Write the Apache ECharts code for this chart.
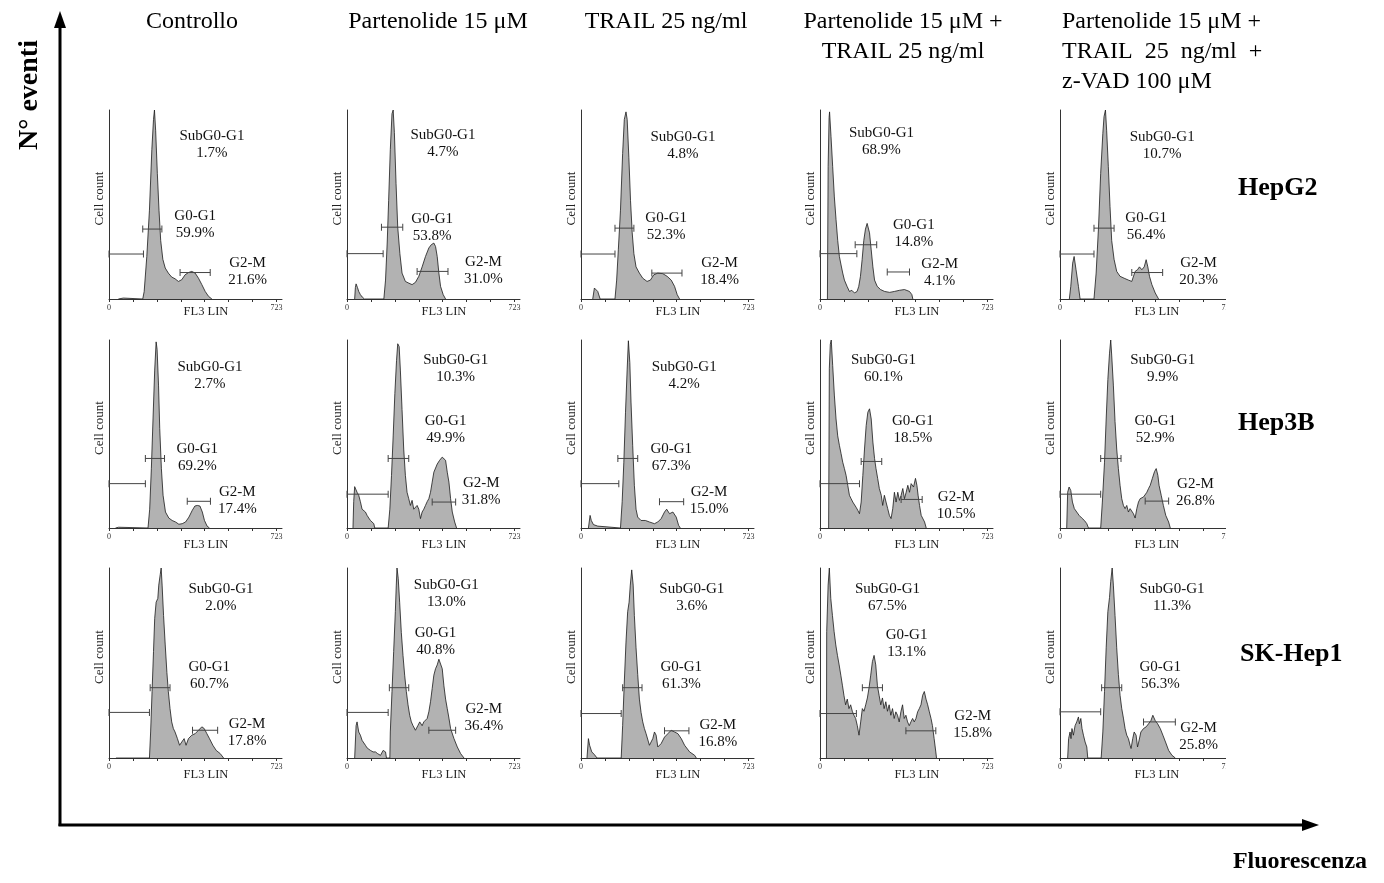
<!DOCTYPE html>
<html lang="it">
<head>
  <meta charset="UTF-8">
  <title>Ciclo cellulare - FL3 LIN</title>
  <script src="https://cdn.jsdelivr.net/npm/echarts@6/dist/echarts.min.js"></script>
  <style>
    html, body { margin: 0; padding: 0; background: #fff; }
    #chart { width: 1384px; height: 883px; }
  </style>
</head>
<body>
<div id="chart"></div>
<script>
  const treatments = [
    "Controllo",
    "Partenolide 15 μM",
    "TRAIL 25 ng/ml",
    "Partenolide 15 μM +\nTRAIL 25 ng/ml",
    "Partenolide 15 μM +\nTRAIL  25  ng/ml  +\nz-VAD 100 μM",
  ];
  const cellLines = ["HepG2", "Hep3B", "SK-Hep1"];

  // histograms: [FL3 LIN channel, cell count as % of the tallest channel]
  const hepg2Ctrl = [[39,0],[39,0.5],[60,0.5],[60,0],[141,0],[147,4],[158,22.5],[169,47],[179,79],[186,95],[190,100],[195,89],[202,66.5],[209,47],[216,31],[225,21],[235,16.4],[248,13.7],[262,11.6],[276,10.7],[290,9.3],[304,10.2],[318,12.8],[332,14],[346,14.6],[360,13.7],[374,11],[388,7.6],[402,4],[416,1.4],[430,0]];
  const hepg2Parth = [[32,0],[35,6],[38,8],[44,6],[49,4],[56,2.3],[64,1],[73,0],[154,0],[161,10],[168,29.6],[174,52],[181,79],[188,98],[193,100],[198,88],[205,61],[212,38],[221,24],[230,13.7],[244,9.3],[258,8.4],[272,7.6],[286,8.8],[300,12],[314,17],[328,22.5],[342,27],[352,28.7],[363,29.6],[370,27.8],[377,22.5],[384,13.7],[391,6.7],[402,2.3],[412,0]];
  const hepg2Trail = [[49,0],[56,5.8],[63,6.7],[70,4],[80,0],[142,0],[149,10],[156,26],[165,47],[174,77],[181,95],[188,99],[193,95],[200,75],[207,52],[214,35],[221,24],[230,17],[244,13.7],[258,11],[276,9.3],[290,10],[304,12.8],[321,13.7],[342,13.4],[360,12],[377,10],[391,6.7],[402,2.3],[412,0]];
  const hepg2PT = [[31,0],[34,70],[38,96],[40,99],[46,86],[53,70],[60,54],[67,42],[74,31],[81,22.5],[88,18],[95,13.7],[102,10],[113,6.7],[123,4],[133,4.6],[144,3.2],[155,4],[162,6.7],[169,12],[176,20.8],[183,31],[190,37],[197,40],[200,40.5],[207,35],[214,26],[221,17],[228,10],[239,6.7],[253,5],[270,4],[291,3.5],[311,4],[332,4.6],[353,5],[374,4],[384,2.3],[388,0]];
  const hepg2PTZ = [[39,0],[45,6.7],[53,19],[59,22.5],[67,15.5],[77,6.7],[84,0],[142,0],[151,13.7],[161,38],[170,66.5],[179,87.6],[184,96.5],[190,100],[195,89],[202,70],[209,49],[216,31],[226,21],[237,14.6],[251,12],[268,11],[286,10],[300,9.3],[314,14.6],[324,15.5],[332,17],[342,15.5],[352,17],[360,20.8],[367,17],[374,12],[384,7.6],[398,3.2],[412,0]];

  const hep3bCtrl = [[27,0],[31,0.9],[40,0.4],[45,0],[163,0],[170,10],[177,31.5],[184,58],[191,84],[197,99],[201,95],[207,76],[212,53],[219,31.5],[226,17.4],[236,8.5],[250,5.3],[264,4],[278,3.2],[292,2],[306,2.3],[320,3.2],[334,5.8],[348,9.4],[359,11.7],[369,12],[380,11.7],[390,8.5],[399,4],[410,1],[420,0]];
  const hep3bParth = [[25,0],[28,14],[32,22],[38,23],[42,19],[49,17.4],[56,14],[63,10],[70,10.6],[77,8.5],[84,6.7],[91,5.3],[98,4],[105,3.2],[112,2.3],[116,0],[172,0],[179,10],[186,28],[193,49],[200,71.5],[207,89],[212,98],[218,96.5],[223,84],[230,63],[237,42],[244,28],[251,19],[258,15.6],[265,12],[272,14.7],[279,10],[286,9.4],[293,12],[300,10],[307,5],[314,8.5],[321,10],[328,12],[335,14],[342,15.6],[349,19],[356,24.4],[363,29.7],[377,34],[387,36],[398,37.7],[405,38.6],[412,36],[419,29.7],[426,24.4],[433,15.6],[440,8.5],[450,3.2],[458,0]];
  const hep3bTrail = [[31,0],[38,6.7],[43,4],[52,1.8],[70,1],[77,0],[165,0],[172,14],[179,35],[186,61.6],[193,84.5],[198,99.6],[204,88],[209,67],[216,44],[223,22.7],[230,10],[237,5.8],[251,4],[269,4],[286,3.2],[307,2.3],[321,3.2],[335,5],[349,8.5],[358,10],[370,7.6],[384,8.5],[398,5.8],[408,1.4],[415,0]];
  const hep3bPT = [[36,0],[39,85],[43,97.7],[47,100],[53,86.5],[60,70.7],[67,58],[74,49],[81,44],[88,39.6],[95,35],[102,31.6],[109,28],[116,22.7],[123,17.4],[130,15.6],[137,13.8],[144,13],[151,11],[158,9.4],[165,7.6],[172,13.8],[179,28],[186,42],[193,54.5],[200,61.6],[207,63.4],[214,58],[221,45.7],[228,37],[234,31.6],[241,26.4],[248,21],[256,17.4],[262,12],[269,17.4],[276,13.8],[283,10.3],[290,6.7],[297,5],[304,10.3],[311,19],[318,13.8],[325,19],[332,14.7],[339,17.4],[346,21],[353,15.6],[360,19],[367,22.7],[374,19],[381,23.6],[391,21.8],[399,26.4],[405,22.7],[410,17.4],[416,12],[423,6.7],[430,6.7],[437,3.2],[444,0]];
  const hep3bPTZ = [[28,0],[32,19],[38,21.8],[45,20],[52,13.8],[60,10.3],[70,8.5],[80,6.7],[91,5.3],[102,4],[112,2.3],[119,0],[170,0],[177,13.8],[186,35],[193,58],[200,79],[207,93],[212,100],[216,92],[223,76],[230,56.6],[237,42],[244,31.6],[251,22.7],[258,15.6],[265,12],[272,10.3],[279,12],[286,8.5],[293,10.3],[300,11],[307,7.6],[314,5.3],[321,10.3],[328,13.8],[335,15.6],[342,16.5],[349,16.5],[356,17.4],[363,19],[370,21],[377,22.7],[386,26.4],[395,30],[402,31.6],[409,28],[414,22.7],[423,17.4],[432,12],[442,6.7],[454,3.2],[461,0]];

  const skCtrl = [[29,0],[29,1],[33,0],[169,0],[174,13.7],[180,35],[186,56],[191,73.5],[197,82],[204,84],[208,91],[214,96.5],[218,100],[222,91],[228,75],[235,59.5],[242,45],[248,35],[255,26],[262,19],[269,15.5],[276,13.7],[286,10.2],[295,6.7],[304,8.4],[314,10.2],[322,6.7],[332,10.2],[346,12],[360,12.8],[374,14.6],[388,16.4],[398,15.5],[409,12.8],[420,10.2],[434,6.7],[448,4],[465,2.3],[479,0]];
  const skParth = [[32,0],[38,17],[42,19],[49,13.7],[56,12],[63,9.3],[70,8.4],[77,6.7],[84,5.3],[91,6],[98,4],[109,3.2],[119,3.2],[128,2.3],[140,1.4],[151,4],[161,3.2],[165,0],[179,0],[181,13.7],[188,35],[195,56],[202,77],[206,91],[209,100],[214,94.6],[220,82],[227,66],[234,54],[241,43.6],[248,35],[255,28],[262,22.5],[269,19],[276,17],[286,14.6],[296,17],[304,19],[314,17],[321,19],[328,20],[335,20.8],[342,24.3],[349,29.6],[356,36.6],[363,43.6],[370,47],[377,49],[384,52],[391,51],[398,47],[405,38],[412,31],[419,26],[426,21],[433,15.5],[447,10.2],[461,5.8],[475,2.3],[489,0]];
  const skTrail = [[25,0],[31,10.2],[36,6.7],[45,3.2],[56,1.8],[67,0],[168,0],[174,17],[181,40],[188,61],[195,77],[201,82],[206,91],[212,99],[218,91],[223,75],[230,58],[237,44],[244,31],[251,24],[258,19],[265,15.5],[272,12.8],[279,12],[286,6.7],[293,5.8],[300,10.2],[307,13.7],[314,12],[321,5.8],[328,5],[335,7.6],[349,11],[363,12.8],[377,14.6],[391,13.7],[405,12.8],[419,10.2],[433,6.7],[454,3.2],[475,1.4],[482,0]];
  const skPT = [[27,0],[28,66.5],[34,91],[39,100],[45,84],[52,75],[59,66.5],[66,59.5],[73,54],[80,49],[87,43.6],[94,38],[100,33],[107,28],[114,31],[121,26],[128,28],[135,24.6],[142,22.5],[149,20.8],[156,17],[163,12],[170,19],[177,26],[184,24.6],[191,28],[198,31.6],[205,37],[212,43.6],[219,50.7],[226,54],[233,49],[240,38],[247,33],[254,28],[261,31.6],[268,26],[275,29.6],[282,24.6],[289,28],[296,22.5],[303,26],[310,20.8],[317,24.3],[324,22.5],[331,19],[338,24.3],[345,28],[352,20.8],[359,22.5],[366,19],[373,17],[380,19],[387,20.8],[394,19],[401,20.8],[408,24.3],[415,26],[422,28],[429,33],[436,35],[443,31],[450,28],[457,24.3],[464,20.8],[470,17],[477,10.2],[484,3.2],[487,0]];
  const skPTZ = [[32,0],[36,10.2],[42,13.7],[46,10.2],[50,15.5],[56,12],[63,17],[70,19],[77,21.6],[81,18],[87,20.8],[92,15.5],[98,12],[105,8.4],[112,5.8],[116,0],[172,0],[179,13.7],[186,35],[193,58],[200,77],[207,84.5],[212,93],[218,100],[223,91],[230,75],[237,58],[244,44],[251,33],[258,26],[265,21],[272,15.5],[279,12],[286,10.2],[293,6.7],[297,5],[304,10.2],[310,13.7],[318,12],[324,5.8],[329,8.4],[338,13.7],[349,15.5],[360,16.4],[370,18],[380,19.7],[388,22.5],[398,19.7],[408,18],[419,15.5],[430,12],[441,8.4],[454,4],[468,1.4],[482,0]];

  const histograms = [
    [hepg2Ctrl, hepg2Parth, hepg2Trail, hepg2PT, hepg2PTZ],
    [hep3bCtrl, hep3bParth, hep3bTrail, hep3bPT, hep3bPTZ],
    [skCtrl, skParth, skTrail, skPT, skPTZ],
  ];

  // percentages per gate
  const subPct = [[1.7, 4.7, 4.8, 68.9, 10.7], [2.7, 10.3, 4.2, 60.1, 9.9], [2.0, 13.0, 3.6, 67.5, 11.3]];
  const g0Pct = [[59.9, 53.8, 52.3, 14.8, 56.4], [69.2, 49.9, 67.3, 18.5, 52.9], [60.7, 40.8, 61.3, 13.1, 56.3]];
  const g2Pct = [[21.6, 31.0, 18.4, 4.1, 20.3], [17.4, 31.8, 15.0, 10.5, 26.8], [17.8, 36.4, 16.8, 15.8, 25.8]];

  // gates: [from channel, to channel, drawn at height]
  const subGate = [
    [[0,144,23.8],[0,151,24],[0,142,23.8],[0,154,24],[0,142,23.8]],
    [[0,152,23.6],[0,172,18],[0,158,23.6],[0,165,23.6],[0,170,18]],
    [[0,169,24],[0,172,24],[0,168,23.4],[0,152,23.4],[0,170,24.3]],
  ];
  const g0Gate = [
    [[141,221,37],[144,233,38],[142,221,37.5],[147,237,28.7],[142,226,37.5]],
    [[152,232,37],[172,258,37],[154,237,37],[172,258,35.4],[170,255,37]],
    [[172,255,37],[177,258,37],[174,255,37],[177,261,37],[174,258,37]],
  ];
  const g2Gate = [
    [[297,423,14],[293,422,14.6],[296,422,13.7],[281,374,14.3],[300,429,14]],
    [[327,424,14.2],[356,454,13.8],[328,429,14],[339,427,15.2],[356,454,14.3]],
    [[349,454,14.6],[342,454,14.6],[349,451,14.3],[359,484,14.3],[349,482,19]],
  ];

  // ---- layout ----
  const FONT = "'Liberation Serif', 'Times New Roman', serif";
  const colLeft = [109, 347, 581, 820, 1060];
  const rowTop = [110, 340, 568];
  const rowHeight = [189, 188, 190];
  const panelWidth = 173;
  const fl3Gap = [13, 17, 17];
  // label anchors [channel, % height of cap top] for SubG0-G1, G0-G1, G2-M
  const labelPos = [
    [[[430,88.5],[360,45.8],[579,21]], [[401,89],[356,44.5],[570,21.6]], [[426,88],[356,45],[579,21]], [[257,90],[392,41],[500,20.8]], [[427,87.6],[360,45],[579,21]]],
    [[[422,87.6],[369,44],[536,21]], [[454,91.7],[412,59],[561,26]], [[431,87.6],[377,44],[535,21]], [[265,91.7],[388,59],[569,18.8]], [[429,91.7],[398,59],[566,25.4]]],
    [[[468,91],[419,50],[577,20]], [[415,93],[370,68],[572,27.8]], [[463,91],[419,50],[572,19.4]], [[282,91],[362,67],[638,24]], [[468,91],[419,50],[579,18]]],
  ];

  function gateSeries(idx, gate) {
    return {
      type: "line",
      xAxisIndex: idx,
      yAxisIndex: idx,
      data: [[gate[0], gate[2]], [gate[1], gate[2]]],
      symbol: "rect",
      symbolSize: [1, 7],
      showSymbol: true,
      lineStyle: { color: "#444", width: 1 },
      itemStyle: { color: "#444" },
      silent: true,
      z: 4,
    };
  }

  function gateLabel(pos, name, pct) {
    return {
      coord: [pos[0], pos[1] + 2.4],
      label: { formatter: name + "\n" + pct.toFixed(1) + "%" },
    };
  }

  function buildOption() {
    const grid = [], xAxis = [], yAxis = [], series = [], graphic = [];

    for (let r = 0; r < 3; r++) {
      for (let c = 0; c < 5; c++) {
        const i = r * 5 + c;
        grid.push({ left: colLeft[c], top: rowTop[r], width: panelWidth, height: rowHeight[r] });
        xAxis.push({
          type: "value", gridIndex: i, min: 0, max: 723,
          axisLine: { lineStyle: { color: "#333", width: 1 } },
          axisTick: { show: true, length: 3, lineStyle: { color: "#333" }, customValues: [0, 100, 200, 300, 400, 500, 600, 700] },
          axisLabel: {
            customValues: [0, 700], margin: 5, fontSize: 8, color: "#333", fontFamily: FONT,
            formatter: (v) => (v === 0 ? "0" : "723"),
          },
          splitLine: { show: false },
        });
        yAxis.push({
          type: "value", gridIndex: i, min: 0, max: 100,
          axisLine: { show: true, lineStyle: { color: "#333", width: 1 } },
          axisTick: { show: false }, axisLabel: { show: false }, splitLine: { show: false },
        });

        const lp = labelPos[r][c];
        series.push({
          type: "line",
          xAxisIndex: i,
          yAxisIndex: i,
          data: histograms[r][c],
          symbol: "none",
          lineStyle: { color: "#1a1a1a", width: 0.8 },
          areaStyle: { color: "#b2b2b2", opacity: 1 },
          silent: true,
          z: 2,
          markPoint: {
            symbol: "circle",
            symbolSize: 0,
            silent: true,
            label: {
              show: true, position: "bottom", distance: 0,
              fontFamily: FONT, fontSize: 15, lineHeight: 17, color: "#111", align: "center",
            },
            data: [
              gateLabel(lp[0], "SubG0-G1", subPct[r][c]),
              gateLabel(lp[1], "G0-G1", g0Pct[r][c]),
              gateLabel(lp[2], "G2-M", g2Pct[r][c]),
            ],
          },
        });
        series.push(gateSeries(i, subGate[r][c]));
        series.push(gateSeries(i, g0Gate[r][c]));
        series.push(gateSeries(i, g2Gate[r][c]));

        graphic.push({
          type: "text", x: colLeft[c] - 9, y: rowTop[r] + rowHeight[r] / 2 - 6, rotation: Math.PI / 2,
          style: { text: "Cell count", font: "13px " + FONT, fill: "#222", textAlign: "center", textVerticalAlign: "middle" },
        });
        graphic.push({
          type: "text", x: colLeft[c] + 97, y: rowTop[r] + rowHeight[r] + fl3Gap[r],
          style: { text: "FL3 LIN", font: "12.5px " + FONT, fill: "#222", textAlign: "center", textVerticalAlign: "middle" },
        });
      }
    }

    // right edge of the scanned figure cuts the last column
    graphic.push({ type: "rect", shape: { x: 1226, y: 100, width: 10, height: 700 }, style: { fill: "#fff" }, z: 100 });

    // column headers
    const headerX = [192, 438, 666, 903, 1062];
    treatments.forEach((t, c) => {
      graphic.push({
        type: "text", x: headerX[c], y: 7,
        style: { text: t, font: "24px " + FONT, lineHeight: 30, fill: "#000", textAlign: c === 4 ? "left" : "center", textVerticalAlign: "top" },
      });
    });

    // row labels
    const rowLabelX = [1238, 1238, 1240];
    const rowLabelY = [188, 423, 654];
    cellLines.forEach((name, r) => {
      graphic.push({
        type: "text", x: rowLabelX[r], y: rowLabelY[r],
        style: { text: name, font: "bold 26px " + FONT, fill: "#000", textAlign: "left", textVerticalAlign: "middle" },
      });
    });

    // big axes with arrows
    graphic.push({ type: "line", shape: { x1: 60, y1: 826, x2: 60, y2: 26 }, style: { stroke: "#000", lineWidth: 3 } });
    graphic.push({ type: "polygon", shape: { points: [[54, 28], [66, 28], [60, 11]] }, style: { fill: "#000" } });
    graphic.push({ type: "line", shape: { x1: 58.5, y1: 825, x2: 1304, y2: 825 }, style: { stroke: "#000", lineWidth: 3 } });
    graphic.push({ type: "polygon", shape: { points: [[1302, 819], [1302, 831], [1319, 825]] }, style: { fill: "#000" } });

    graphic.push({
      type: "text", x: 30, y: 95, rotation: Math.PI / 2,
      style: { text: "N° eventi", font: "bold 28px " + FONT, fill: "#000", textAlign: "center", textVerticalAlign: "middle" },
    });
    graphic.push({
      type: "text", x: 1300, y: 862,
      style: { text: "Fluorescenza", font: "bold 24px " + FONT, fill: "#000", textAlign: "center", textVerticalAlign: "middle" },
    });

    return { animation: false, backgroundColor: "#fff", grid, xAxis, yAxis, series, graphic };
  }

  const chart = echarts.init(document.getElementById("chart"), null, { renderer: "canvas" });
  chart.setOption(buildOption());
</script>
</body>
</html>
